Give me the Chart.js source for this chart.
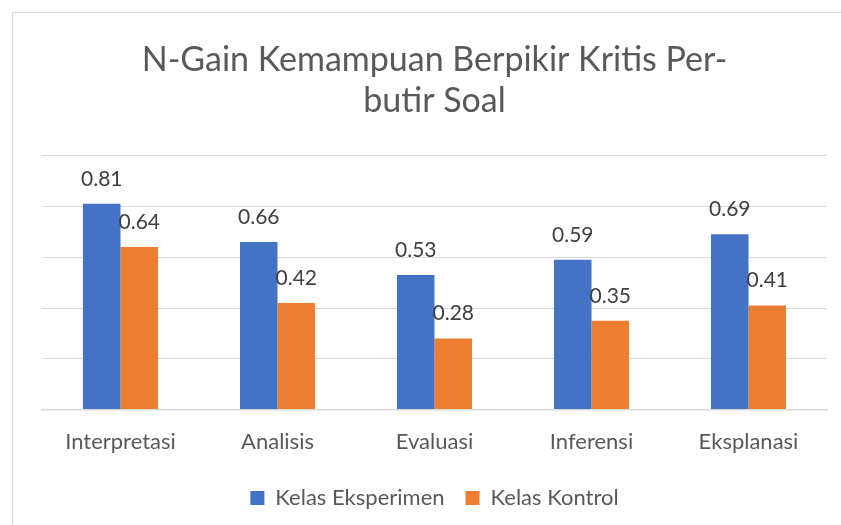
<!DOCTYPE html>
<html><head><meta charset="utf-8">
<script src="https://cdn.jsdelivr.net/npm/chart.js@4"></script>
<style>
html,body{margin:0;padding:0;background:#fff;}
#wrap{position:relative;width:841px;height:525px;overflow:hidden;}
#frame{position:absolute;left:12px;top:12px;width:840px;height:530px;border:1px solid #d9d9d9;box-sizing:border-box;}
canvas{position:absolute;left:0;top:0;}
</style></head>
<body><div id="wrap"><div id="frame"></div><canvas id="c" width="841" height="525"></canvas></div>
<script>
const categories = ["Interpretasi","Analisis","Evaluasi","Inferensi","Eksplanasi"];
const eksperimen = [0.81,0.66,0.53,0.59,0.69];
const kontrol = [0.64,0.42,0.28,0.35,0.41];
const titleLines = ["N-Gain Kemampuan Berpikir Kritis Per-","butir Soal"];
const FONT = "Lato, 'Open Sans', sans-serif";

const valueLabels = {
  id:'valueLabels',
  afterDatasetsDraw(chart){
    const ctx = chart.ctx;
    ctx.save();
    ctx.font = "21px " + FONT;
    ctx.fillStyle = "#404040";
    ctx.textAlign = "center";
    ctx.textBaseline = "alphabetic";
    chart.data.datasets.forEach((ds,i)=>{
      chart.getDatasetMeta(i).data.forEach((bar,j)=>{
        ctx.fillText(ds.data[j].toFixed(2), bar.x, bar.y - 18);
      });
    });
    ctx.restore();
  }
};

new Chart(document.getElementById('c'),{
  type:'bar',
  data:{labels:categories,datasets:[
    {label:"Kelas Eksperimen",data:eksperimen,backgroundColor:"#4472C4"},
    {label:"Kelas Kontrol",data:kontrol,backgroundColor:"#ED7D31"}
  ]},
  options:{
    responsive:false,animation:false,
    layout:{padding:{left:42,right:14,top:40,bottom:6}},
    datasets:{bar:{categoryPercentage:0.478,barPercentage:1.0}},
    plugins:{
      title:{display:true,text:titleLines,color:"#595959",font:{family:FONT,size:34,weight:'normal',lineHeight:1.2},padding:{top:0,bottom:34}},
      legend:{position:'bottom',labels:{color:"#595959",font:{family:FONT,size:22},boxWidth:14,boxHeight:14,padding:21}},
      tooltip:{enabled:false}
    },
    scales:{
      x:{grid:{display:false},border:{color:"#d9d9d9",width:1.5},ticks:{color:"#595959",font:{family:FONT,size:22},padding:11}},
      y:{min:0,max:1,ticks:{display:false,stepSize:0.2},grid:{color:"#d9d9d9",drawTicks:false},border:{display:false}}
    }
  },
  plugins:[valueLabels]
});
</script></body></html>
